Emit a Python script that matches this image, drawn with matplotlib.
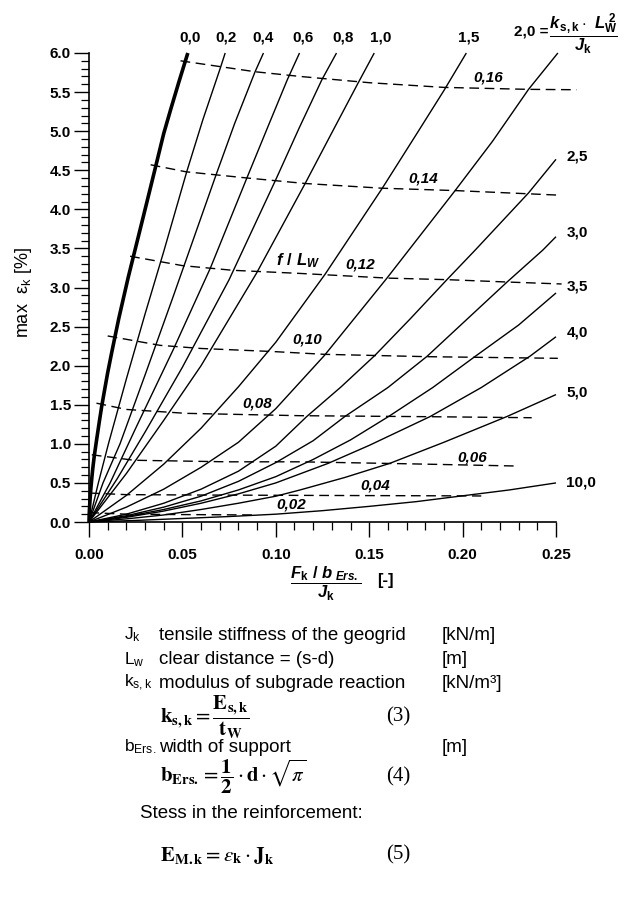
import numpy as np
import matplotlib
matplotlib.use("Agg")
import matplotlib.pyplot as plt

# ---- data ----
# solid curves: k_s,k * L_W^2 / J_k
lam_labels = ["0,0", "0,2", "0,4", "0,6", "0,8", "1,0", "1,5", "2,0",
              "2,5", "3,0", "3,5", "4,0", "5,0", "10,0"]
lam_x = [
    [0, 0.0001, 0.0003, 0.0006, 0.001, 0.0015, 0.002, 0.0028, 0.004, 0.0055,
     0.0068, 0.0085, 0.010, 0.012, 0.0139, 0.016, 0.0185, 0.021, 0.0237,
     0.029, 0.0354, 0.040, 0.044, 0.048, 0.0529],
    [0, 0.005, 0.0104, 0.020, 0.030, 0.040, 0.0523, 0.061, 0.0702, 0.0729],
    [0, 0.0075, 0.0166, 0.030, 0.045, 0.068, 0.078, 0.0889, 0.0934],
    [0, 0.0113, 0.025, 0.045, 0.065, 0.0845, 0.096, 0.1062, 0.1127],
    [0, 0.015, 0.030, 0.050, 0.075, 0.100, 0.1125, 0.1247, 0.1325],
    [0, 0.020, 0.040, 0.060, 0.0896, 0.1157, 0.130, 0.1437, 0.1527],
    [0, 0.020, 0.040, 0.060, 0.080, 0.100, 0.1264, 0.157, 0.175, 0.190, 0.202],
    [0, 0.020, 0.040, 0.060, 0.080, 0.100, 0.126, 0.1595, 0.196, 0.216, 0.2353, 0.251],
    [0, 0.020, 0.040, 0.060, 0.080, 0.100, 0.1166, 0.135, 0.153, 0.172, 0.1916, 0.2068, 0.2353, 0.25],
    [0, 0.020, 0.040, 0.060, 0.080, 0.100, 0.120, 0.137, 0.16, 0.181, 0.2238, 0.243, 0.25],
    [0, 0.020, 0.040, 0.060, 0.080, 0.100, 0.120, 0.140, 0.1604, 0.184, 0.2068, 0.23, 0.25],
    [0, 0.020, 0.040, 0.060, 0.080, 0.100, 0.128, 0.150, 0.1827, 0.21, 0.236, 0.25],
    [0, 0.020, 0.040, 0.060, 0.080, 0.100, 0.113, 0.137, 0.161, 0.19, 0.2238, 0.25],
    [0, 0.025, 0.050, 0.075, 0.100, 0.125, 0.150, 0.175, 0.200, 0.225, 0.25],
]
lam_y = [
    [0, 0.09, 0.19, 0.30, 0.43, 0.56, 0.68, 0.84, 1.04, 1.28,
     1.48, 1.71, 1.91, 2.15, 2.37, 2.61, 2.87, 3.13, 3.39,
     3.90, 4.52, 4.97, 5.30, 5.62, 6.0],
    [0, 0.5, 1.0, 1.83, 2.66, 3.46, 4.48, 5.15, 5.80, 6.0],
    [0, 0.5, 1.0, 1.88, 2.88, 4.44, 5.10, 5.76, 6.0],
    [0, 0.5, 1.2, 2.2, 3.25, 4.40, 5.07, 5.66, 6.0],
    [0, 0.55, 1.15, 1.98, 3.10, 4.38, 5.04, 5.66, 6.0],
    [0, 0.62, 1.30, 2.00, 3.18, 4.33, 4.98, 5.60, 6.0],
    [0, 0.34, 0.74, 1.20, 1.73, 2.30, 3.17, 4.27, 4.95, 5.52, 6.0],
    [0, 0.19, 0.42, 0.70, 1.02, 1.45, 2.13, 3.12, 4.24, 4.87, 5.535, 6.0],
    [0, 0.10, 0.24, 0.42, 0.65, 0.97, 1.35, 1.73, 2.13, 2.60, 3.10, 3.48, 4.21, 4.64],
    [0, 0.08, 0.19, 0.33, 0.52, 0.76, 1.04, 1.35, 1.72, 2.12, 3.07, 3.48, 3.65],
    [0, 0.07, 0.16, 0.27, 0.41, 0.58, 0.80, 1.05, 1.35, 1.72, 2.12, 2.52, 2.93],
    [0, 0.06, 0.14, 0.24, 0.36, 0.50, 0.75, 0.98, 1.35, 1.72, 2.12, 2.37],
    [0, 0.04, 0.09, 0.16, 0.24, 0.33, 0.41, 0.57, 0.75, 1.02, 1.35, 1.63],
    [0, 0.02, 0.045, 0.07, 0.10, 0.145, 0.20, 0.26, 0.335, 0.41, 0.50],
]

# dashed curves: f / L_W
fl_labels = ["0,16", "0,14", "0,12", "0,10", "0,08", "0,06", "0,04", "0,02"]
fl_x = [
    [0.049, 0.089, 0.113, 0.150, 0.190, 0.235, 0.261],
    [0.033, 0.052, 0.085, 0.116, 0.157, 0.196, 0.253],
    [0.022, 0.050, 0.077, 0.113, 0.160, 0.192, 0.224, 0.253],
    [0.010, 0.038, 0.060, 0.099, 0.126, 0.181, 0.251],
    [0.004, 0.020, 0.052, 0.113, 0.183, 0.237],
    [0.0015, 0.024, 0.074, 0.113, 0.170, 0.229],
    [0.0006, 0.020, 0.060, 0.120, 0.190, 0.210],
    [0.0002, 0.020, 0.050, 0.090],
]
fl_y = [
    [5.90, 5.76, 5.70, 5.62, 5.56, 5.535, 5.53],
    [4.57, 4.48, 4.40, 4.33, 4.27, 4.24, 4.18],
    [3.40, 3.28, 3.22, 3.18, 3.12, 3.10, 3.07, 3.045],
    [2.38, 2.26, 2.22, 2.18, 2.145, 2.115, 2.094],
    [1.52, 1.44, 1.39, 1.36, 1.347, 1.334],
    [0.86, 0.79, 0.77, 0.77, 0.745, 0.716],
    [0.37, 0.35, 0.345, 0.34, 0.335, 0.333],
    [0.12, 0.10, 0.095, 0.09],
]

plt.rcParams["font.family"] = ["Liberation Sans", "DejaVu Sans"]
plt.rcParams["mathtext.fontset"] = "custom"
plt.rcParams["mathtext.rm"] = "Liberation Sans:bold"
plt.rcParams["mathtext.it"] = "Liberation Sans:italic:bold"
plt.rcParams["mathtext.bf"] = "Liberation Sans:bold"

W, H = 632, 899
fig = plt.figure(figsize=(W / 100, H / 100), dpi=100)
ax = fig.add_axes([89 / W, 1 - 522 / H, (556 - 89) / W, (522 - 53) / H])

for i in range(len(lam_x)):
    lw = 2.6 if i == 0 else 1.0
    ax.plot(lam_x[i], lam_y[i], color="black", lw=lw, clip_on=False,
            solid_capstyle="butt", solid_joinstyle="round")
for i in range(len(fl_x)):
    ax.plot(fl_x[i], fl_y[i], color="black", lw=1.0, dashes=(7, 4),
            clip_on=False)

ax.set_xlim(0, 0.25)
ax.set_ylim(0, 6.0)
ax.set_xticks(np.arange(0, 0.2501, 0.05))
ax.set_xticks(np.arange(0, 0.2501, 0.01), minor=True)
ax.set_yticks(np.arange(0, 6.01, 0.5))
ax.set_yticks(np.arange(0, 6.01, 0.1), minor=True)
ax.set_xticklabels(["%.2f" % v for v in np.arange(0, 0.2501, 0.05)])
ax.set_yticklabels(["%.1f" % v for v in np.arange(0, 6.01, 0.5)])
ax.tick_params(which="major", direction="out", length=11, width=1.0,
               labelsize=11)
ax.tick_params(which="minor", direction="out", length=6, width=0.9)
for t in ax.get_xticklabels() + ax.get_yticklabels():
    t.set_fontweight("bold")
ax.tick_params(axis="x", pad=8)
ax.tick_params(axis="y", pad=2)
for s in ["top", "right"]:
    ax.spines[s].set_visible(False)
for s in ["left", "bottom"]:
    ax.spines[s].set_linewidth(1.2)

ax.set_ylabel(r"max  $\mathregular{\varepsilon_k}$ [%]", fontsize=13)
ax.yaxis.set_label_coords(-0.118, 0.49)

# curve labels (top row)
top_pos = [0.0541, 0.0734, 0.0932, 0.1146, 0.136, 0.1564, 0.203]
for i, xp in enumerate(top_pos):
    ax.text(xp, 6.20, lam_labels[i], ha="center", va="center", fontsize=11,
            fontweight="heavy" if i == 0 else "bold", clip_on=False)
ax.text(0.2462, 6.27, lam_labels[7] + " =", ha="right", va="center",
        fontsize=11, fontweight="bold", clip_on=False)
ax.text(0.2645, 6.25, r"$\dfrac{k_{\,\mathrm{s,k}}\cdot\ L_{\mathrm{W}}^{\ 2}}{J_{\mathrm{k}}}$",
        ha="center", va="center", fontsize=12, clip_on=False)

# curve labels (right side)
right_y = [4.67, 3.70, 3.01, 2.43, 1.66, 0.51]
for i, yp in enumerate(right_y):
    ax.text(0.2555, yp, lam_labels[8 + i], ha="left", va="center",
            fontsize=11, fontweight="bold", clip_on=False)

# f/L_W labels
fl_pos = [(0.2137, 5.69), (0.179, 4.40), (0.1452, 3.29), (0.1168, 2.33),
          (0.090, 1.51), (0.2052, 0.83), (0.1532, 0.47), (0.108, 0.22)]
for lab, (xp, yp) in zip(fl_labels, fl_pos):
    ax.text(xp, yp, lab, ha="center", va="center", fontsize=11,
            fontstyle="italic", fontweight="bold")
ax.text(0.112, 3.34, r"$f\ /\ L_{W}$", ha="center", va="center", fontsize=12)

# x axis label as a fraction
fig.text(326 / W, 1 - 584 / H,
         r"$\dfrac{F_{\mathrm{k}}\ /\ b_{\ Ers.}}{J_{\mathrm{k}}}$",
         ha="center", va="center", fontsize=12)
fig.text(385 / W, 1 - 580 / H, "[-]", ha="center", va="center", fontsize=12,
         fontweight="bold")

# ---- legend / formula block below the chart ----
fs = 13.5
def ftext(px, py, s, size=fs, **kw):
    fig.text(px / W, 1 - py / H, s, va="center", fontsize=size, **kw)

rows = [
    (635, r"J$\mathregular{_k}$", "tensile stiffness of the geogrid", "[kN/m]"),
    (660, r"L$\mathregular{_w}$", "clear distance = (s-d)", "[m]"),
    (683, r"k$\mathregular{_{s,k}}$", "modulus of subgrade reaction", "[kN/m³]"),
    (747, r"b$\mathregular{_{Ers.}}$", "width of support", "[m]"),
]
for py, sym, desc, unit in rows:
    ftext(124, py, sym, size=12.5)
    ftext(159, py, desc)
    ftext(442, py, unit)

ftext(160, 717, r"$\mathbf{k_{s,k}} = \dfrac{\mathbf{E_{s,k}}}{\mathbf{t_W}}$",
      size=15, math_fontfamily="stix")
ftext(386, 717, "(3)", size=15, family="Liberation Serif")
ftext(160, 777, r"$\mathbf{b_{Ers.}} = \dfrac{\mathbf{1}}{\mathbf{2}}\cdot\mathbf{d}\cdot\sqrt{\pi}$",
      size=15, math_fontfamily="stix")
ftext(386, 777, "(4)", size=15, family="Liberation Serif")
ftext(140, 813, "Stess in the reinforcement:")
ftext(160, 855, r"$\mathbf{E_{M.k}} = \varepsilon_\mathbf{k}\cdot\mathbf{J_k}$",
      size=15, math_fontfamily="stix")
ftext(386, 855, "(5)", size=15, family="Liberation Serif")

fig.savefig("out.png", dpi=100)
